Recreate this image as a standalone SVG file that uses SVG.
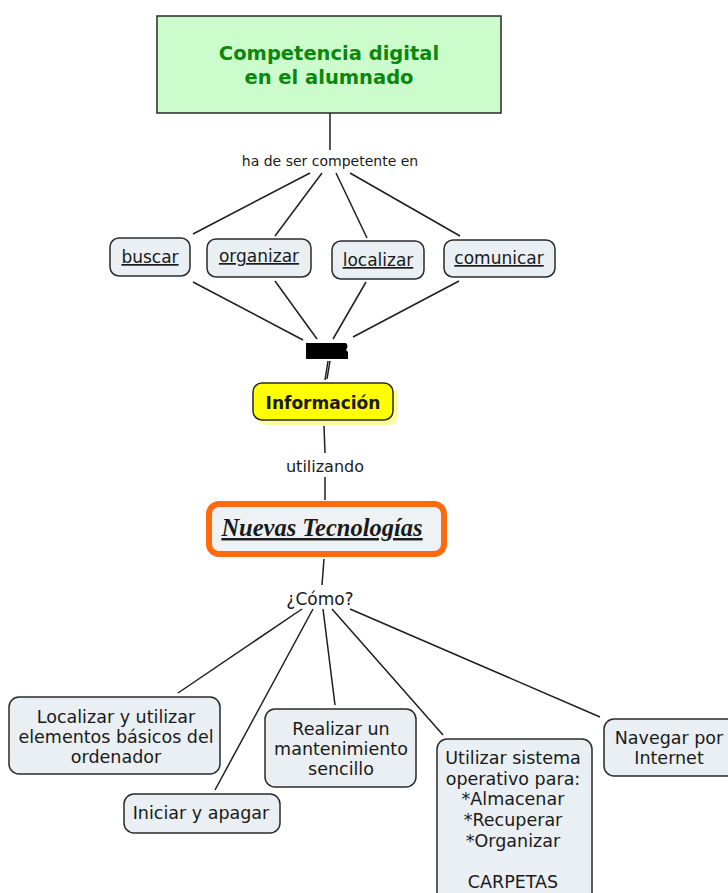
<svg xmlns="http://www.w3.org/2000/svg" width="728" height="893" viewBox="0 0 728 893">
<style>
.bg{fill:#ffffff}
.node{fill:#e9eff2;stroke:#2a2a2a;stroke-width:1.5}
.t{font-family:"DejaVu Sans","Verdana",sans-serif;fill:#1a1a1a;text-anchor:middle}
.lbl{font-size:17px}
.bt{font-size:17.5px}
.lk{font-size:17px;text-decoration:underline}
.con line,.con path{stroke:#1e1e1e;stroke-width:1.5;fill:none}
</style>
<rect class="bg" x="0" y="0" width="728" height="893"/>

<g id="connectors" class="con">
<line x1="330" y1="113" x2="330" y2="150"/>
<line x1="310" y1="173" x2="193" y2="234"/>
<line x1="322" y1="173" x2="275" y2="236"/>
<line x1="336" y1="173" x2="367" y2="238"/>
<line x1="350" y1="173" x2="460" y2="236"/>
<line x1="193" y1="282" x2="303" y2="340"/>
<line x1="275" y1="281" x2="317" y2="339"/>
<line x1="366" y1="282" x2="333" y2="339"/>
<line x1="459" y1="281" x2="353" y2="337"/>
<path d="M328 361 L325 380 M330 361 L327 379"/>
<line x1="324" y1="426" x2="325" y2="453"/>
<line x1="325" y1="477" x2="325" y2="500"/>
<line x1="324" y1="559" x2="322" y2="585"/>
<line x1="302" y1="609" x2="178" y2="693"/>
<line x1="313" y1="609" x2="215" y2="790"/>
<line x1="323" y1="609" x2="335" y2="705"/>
<line x1="332" y1="609" x2="443" y2="735"/>
<line x1="350" y1="609" x2="600" y2="717"/>
</g>

<g id="lbl-ha-de-ser">
<text class="t" x="330" y="166" font-size="14">ha de ser competente en</text>
</g>
<g id="lbl-blob">
<path d="M306 343 H346 Q349 346 346 350 L348 352 V359 H306 Z" fill="#000"/>
</g>
<g id="lbl-utilizando">
<text class="t" x="325" y="472" font-size="16">utilizando</text>
</g>
<g id="lbl-como">
<text class="t lbl" x="320" y="605">¿Cómo?</text>
</g>

<g id="n-competencia">
<rect x="157" y="16" width="344" height="97" fill="#ccfccc" stroke="#2a2a2a" stroke-width="1.5"/>
<text class="t" x="329" y="60" font-size="19.5" font-weight="bold" style="fill:#0b870b">Competencia digital</text>
<text class="t" x="329" y="84" font-size="19.5" font-weight="bold" style="fill:#0b870b">en el alumnado</text>
</g>

<g id="n-buscar">
<rect class="node" x="110" y="238" width="80" height="38" rx="9"/>
<text class="t lk" x="150" y="263">buscar</text>
</g>
<g id="n-organizar">
<rect class="node" x="207" y="239" width="104" height="38" rx="9"/>
<text class="t lk" x="259" y="262">organizar</text>
</g>
<g id="n-localizar">
<rect class="node" x="332" y="241" width="92" height="38" rx="9"/>
<text class="t lk" x="378" y="266">localizar</text>
</g>
<g id="n-comunicar">
<rect class="node" x="444" y="240" width="111" height="37" rx="9"/>
<text class="t lk" x="499" y="264">comunicar</text>
</g>

<g id="n-informacion">
<rect x="258" y="388" width="140" height="37" rx="9" fill="#fdfd9a"/>
<rect x="253" y="383" width="140" height="37" rx="9" fill="#ffff00" stroke="#2a2a2a" stroke-width="1.5"/>
<text class="t" x="323" y="409" font-size="17" font-weight="bold">Información</text>
</g>

<g id="n-nuevas">
<rect x="209" y="504" width="235" height="50" rx="10" fill="#eef2f4" stroke="#ff6a0e" stroke-width="6"/>
<text x="322" y="536" font-family="'Liberation Serif','Times New Roman',serif" font-size="24.5" font-weight="bold" font-style="italic" text-anchor="middle" text-decoration="underline" fill="#1a1a1a">Nuevas Tecnologías</text>
</g>

<g id="n-localizar-elementos">
<rect class="node" x="9" y="697" width="211" height="77" rx="10"/>
<text class="t bt" x="116" y="723">Localizar y utilizar</text>
<text class="t bt" x="116" y="743">elementos básicos del</text>
<text class="t bt" x="116" y="763">ordenador</text>
</g>
<g id="n-iniciar">
<rect class="node" x="124" y="794" width="156" height="39" rx="10"/>
<text class="t bt" x="201" y="819">Iniciar y apagar</text>
</g>
<g id="n-realizar">
<rect class="node" x="265" y="709" width="151" height="78" rx="10"/>
<text class="t bt" x="341" y="735">Realizar un</text>
<text class="t bt" x="341" y="755">mantenimiento</text>
<text class="t bt" x="341" y="775">sencillo</text>
</g>
<g id="n-utilizar">
<rect class="node" x="437" y="739" width="155" height="170" rx="10"/>
<text class="t bt" x="513" y="764">Utilizar sistema</text>
<text class="t bt" x="513" y="785">operativo para:</text>
<text class="t bt" x="513" y="805">*Almacenar</text>
<text class="t bt" x="513" y="826">*Recuperar</text>
<text class="t bt" x="513" y="847">*Organizar</text>
<text class="t bt" x="513" y="888">CARPETAS</text>
</g>
<g id="n-navegar">
<rect class="node" x="604" y="719" width="140" height="57" rx="10"/>
<text class="t bt" x="669" y="744">Navegar por</text>
<text class="t bt" x="669" y="764">Internet</text>
</g>
</svg>
